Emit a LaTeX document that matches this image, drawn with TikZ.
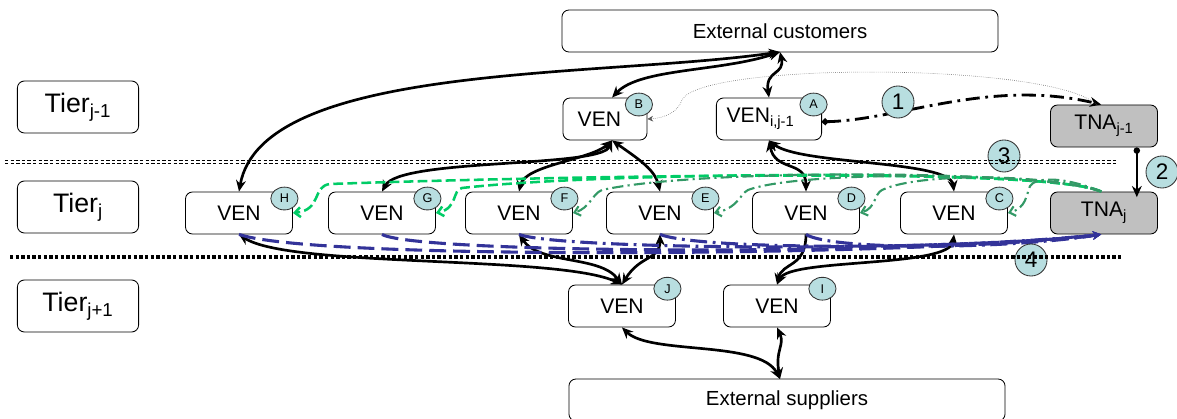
\documentclass[tikz,border=0pt]{standalone}
\usepackage{fontspec}
\setmainfont{Liberation Sans}
\usepackage{xcolor}
\usepackage{tikz}
\usetikzlibrary{arrows.meta,shapes.geometric}

\definecolor{tnagray}{RGB}{192,192,192}
\definecolor{tagfill}{RGB}{184,222,224}
\definecolor{lgreen}{RGB}{0,204,102}
\definecolor{dgreen}{RGB}{51,153,102}
\definecolor{navy}{RGB}{51,51,153}

\begin{document}
\begin{tikzpicture}[x=0.025cm,y=-0.025cm,
        box/.style={draw, line width=0.6pt, rounded corners=5pt, minimum width=2.675cm, minimum height=1.05cm, inner sep=0pt, font=\fontsize{15}{17}\selectfont},
        tierbox/.style={box, minimum width=3.03cm, minimum height=1.3cm, font=\fontsize{19}{21}\selectfont},
        widebox/.style={box, minimum width=10.9cm, font=\fontsize{14.5}{16}\selectfont},
        tnabox/.style={box, fill=tnagray},
        tag/.style={draw=black!80, line width=0.6pt, ellipse, fill=tagfill, inner sep=0pt, minimum width=0.68cm, minimum height=0.57cm, font=\fontsize{9}{10}\selectfont},
        num/.style={draw=black!80, line width=0.6pt, circle, fill=tagfill, inner sep=0pt, minimum size=0.8cm, font=\fontsize{16}{18}\selectfont},
        flow/.style={line width=1.9pt, {Stealth[length=8pt,width=7pt]}-{Stealth[length=8pt,width=7pt]}},
        oneway/.style={line width=1.9pt, -{Stealth[length=8pt,width=7pt]}},
        sep/.style={line width=0.9pt, dash pattern=on 2.4pt off 1.6pt},
        greenA/.style={lgreen, line width=1.8pt, dash pattern=on 7pt off 3pt, -{Straight Barb[length=4pt,width=7pt]}},
        greenB/.style={dgreen, line width=1.5pt, dash pattern=on 8pt off 3pt on 1.5pt off 3pt, -{Straight Barb[length=4pt,width=7pt]}},
        blueA/.style={navy, line width=2.2pt, dash pattern=on 12pt off 5pt},
        blueB/.style={navy, line width=2.2pt, dash pattern=on 12pt off 4pt on 2pt off 4pt}]
            \useasboundingbox (0,0) rectangle (1177,419);

            \node[widebox] at (780,31) (ec) {External customers};
            \node[widebox] at (787,400) (es) {External suppliers};

            \node[tierbox] at (78,107) (tierUp) {Tier\textsubscript{j-1}};
            \node[tierbox] at (78,207) (tierMid) {Tier\textsubscript{j}};
            \node[tierbox] at (78,306) (tierLow) {Tier\textsubscript{j+1}};

            \node[box, minimum width=2.1cm] at (605,119) (venB) {\hspace*{-8pt}VEN};
            \node[box, minimum width=2.63cm] at (769,119) (venA) {\hspace*{-12pt}VEN\textsubscript{i,j-1}};
            \node[tnabox] at (1104,126) (tnaUp) {TNA\textsubscript{j-1}};

            \node[box] at (239,213) (venH) {VEN};
            \node[box] at (382,213) (venG) {VEN};
            \node[box] at (519,213) (venF) {VEN};
            \node[box] at (660,213) (venE) {VEN};
            \node[box] at (806,213) (venD) {VEN};
            \node[box] at (954,213) (venC) {VEN};
            \node[tnabox] at (1104,213) (tnaMid) {TNA\textsubscript{j}};

            \node[box] at (622,306) (venJ) {VEN};
            \node[box] at (777,306) (venI) {VEN};

            \node[tag, anchor=north east] at ([xshift=1pt,yshift=1pt]venB.north east) (tB) {B};
            \node[tag, anchor=north east] at ([xshift=1pt,yshift=1pt]venA.north east) (tA) {A};
            \node[tag, anchor=north east] at ([xshift=1pt,yshift=1pt]venH.north east) (tH) {H};
            \node[tag, anchor=north east] at ([xshift=1pt,yshift=1pt]venG.north east) (tG) {G};
            \node[tag, anchor=north east] at ([xshift=1pt,yshift=1pt]venF.north east) (tF) {F};
            \node[tag, anchor=north east] at ([xshift=1pt,yshift=1pt]venE.north east) (tE) {E};
            \node[tag, anchor=north east] at ([xshift=1pt,yshift=1pt]venD.north east) (tD) {D};
            \node[tag, anchor=north east] at ([xshift=1pt,yshift=1pt]venC.north east) (tC) {C};
            \node[tag, anchor=north east] at ([xshift=1pt,yshift=3pt]venJ.north east) (tJ) {J};
            \node[tag, anchor=north east] at ([xshift=1pt,yshift=3pt]venI.north east) (tI) {I};

            \coordinate (ecFoot) at (780,52);
            \coordinate (esTop) at (780,379);

            \draw[flow] (ecFoot) .. controls (600,78) and (262,62) .. (venH.north);
            \draw[flow] (ecFoot) .. controls (720,72) and (640,68) .. ([xshift=5pt]venB.north);
            \draw[flow] (ecFoot) .. controls (785,75) and (765,70) .. (venA.north);

            \draw[flow] ([xshift=5pt]venB.south) .. controls (600,168) and (400,158) .. (venG.north);
            \draw[flow] ([xshift=5pt]venB.south) .. controls (590,160) and (525,165) .. (venF.north);
            \draw[flow] ([xshift=5pt]venB.south) .. controls (640,160) and (655,170) .. (venE.north);
            \draw[flow] (venA.south) .. controls (775,172) and (806,160) .. (venD.north);
            \draw[flow] (venA.south) .. controls (800,165) and (950,160) .. (venC.north);

            \draw[flow] (venJ.north) .. controls (560,255) and (290,268) .. (venH.south);
            \draw[flow] (venJ.north) .. controls (600,255) and (540,265) .. (venF.south);
            \draw[flow] (venJ.north) .. controls (640,255) and (660,260) .. (venE.south);
            \draw[oneway] (venD.south) .. controls (806,268) and (782,262) .. (venI.north);
            \draw[flow] (venI.north) .. controls (790,258) and (950,268) .. (venC.south);

            \draw[flow] (esTop) .. controls (760,340) and (650,355) .. (venJ.south);
            \draw[flow] (esTop) .. controls (775,350) and (785,345) .. (venI.south);

            \draw[line width=1.6pt, {Circle[length=4.5pt]}-{Stealth[length=8pt,width=7pt]}] ([xshift=0.82cm]tnaUp.south) -- ([xshift=0.82cm,yshift=-4pt]tnaMid.north);

            \draw[line width=2pt, dash pattern=on 10pt off 4pt on 2pt off 4pt, {Circle[length=4.5pt]}-{Stealth[length=8pt,width=7pt]}] ([yshift=-2pt]venA.east) .. controls (900,120) and (990,78) .. ([xshift=-2pt]tnaUp.north);
            \draw[gray!70!black, densely dotted, -{Stealth[length=4pt,width=4pt]}] ([xshift=-5pt]tnaUp.north) .. controls (1050,62) and (700,62) .. (682,100) .. controls (678,112) and (665,118) .. (venB.east);

            \draw[greenA] ([xshift=-2pt]tnaMid.north) .. controls (1050,165) and (500,178) .. (330,184) .. controls (312,186) and (322,210) .. (venH.east);
            \draw[greenA] ([xshift=-2pt]tnaMid.north) .. controls (1050,168) and (600,172) .. (462,188) .. controls (452,190) and (458,208) .. (venG.east);
            \draw[greenB] ([xshift=-2pt]tnaMid.north) .. controls (1050,170) and (700,168) .. (602,190) .. controls (592,194) and (590,208) .. (venF.east);
            \draw[greenB] ([xshift=-2pt]tnaMid.north) .. controls (1050,172) and (800,170) .. (748,190) .. controls (740,194) and (738,208) .. (venE.east);
            \draw[greenB] ([xshift=-2pt]tnaMid.north) .. controls (1050,174) and (920,172) .. (882,190) .. controls (874,194) and (876,208) .. (venD.east);
            \draw[greenB] ([xshift=-2pt]tnaMid.north) .. controls (1060,175) and (1035,178) .. (1030,186) .. controls (1026,196) and (1026,208) .. (venC.east);

            \draw[blueA, -{Stealth[length=6pt,width=6pt]}] (venH.south) .. controls (320,262) and (950,255) .. ([xshift=-2pt]tnaMid.south);
            \draw[blueA, -{Stealth[length=6pt,width=6pt]}] (venG.south) .. controls (420,255) and (950,255) .. ([xshift=-2pt]tnaMid.south);
            \draw[blueB, -{Stealth[length=6pt,width=6pt]}] (venF.south) .. controls (560,250) and (950,252) .. ([xshift=-2pt]tnaMid.south);
            \draw[blueB, -{Stealth[length=6pt,width=6pt]}] (venE.south) .. controls (700,250) and (950,250) .. ([xshift=-2pt]tnaMid.south);
            \draw[blueB, -{Stealth[length=6pt,width=6pt]}] (venD.south) .. controls (830,250) and (1000,250) .. ([xshift=-2pt]tnaMid.south);

            \node[num] at (898,102) (n1) {1};
            \node[num] at (1162,172) (n2) {2};
            \node[num] at (1004,156) (n3) {3};
            \node[num] at (1031,260) (n4) {4};

            \coordinate (sepA) at (5,162);
            \coordinate (sepB) at (1118,162);
            \coordinate (sepC) at (10,257);
            \coordinate (sepD) at (1123,257);
            \draw[sep] ([yshift=1pt]sepA) -- ([yshift=1pt]sepB);
            \draw[sep] ([yshift=-1pt]sepA) -- ([yshift=-1pt]sepB);
            \draw[sep, line width=2.2pt] (sepC) -- (sepD);
        \end{tikzpicture}
\end{document}
